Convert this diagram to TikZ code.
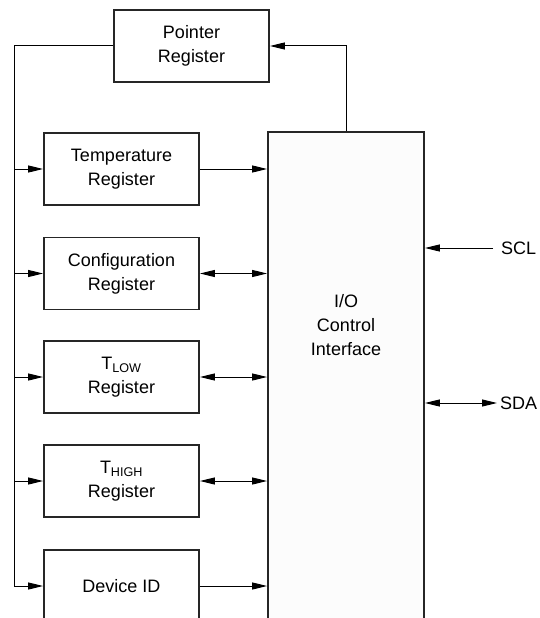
\documentclass[tikz,border=0pt]{standalone}
\usepackage{fontspec}
\setmainfont{Liberation Sans}
\usetikzlibrary{arrows.meta}
\tikzset{
  regbox/.style={draw=black!85, line width=1.8pt, minimum width=155, minimum height=72,
    align=center, font=\fontsize{18}{24}\selectfont},
  conn/.style={line width=1pt, black},
  tip/.style={-{Triangle[length=15pt,width=7pt]}},
  dtip/.style={{Triangle[length=15pt,width=7pt]}-{Triangle[length=15pt,width=7pt]}},
  sig/.style={font=\fontsize{18}{24}\selectfont, inner ysep=2pt}
}
\begin{document}
\begin{tikzpicture}[x=1pt,y=-1pt]
  \clip (0,0) rectangle (539,618);
  \fill[white] (0,0) rectangle (539,618);

  % Drawing the register boxes
  \node (ptr) [regbox] at (191.5,46) {Pointer\\Register};
  \node (temp) [regbox] at (121.5,169) {Temperature\\Register};
  \node (conf) [regbox] at (121.5,273.5) {Configuration\\Register};
  \node (tlow) [regbox] at (121.5,377) {T\textsubscript{LOW}\\Register};
  \node (thigh) [regbox] at (121.5,481) {T\textsubscript{HIGH}\\Register};
  \node (devid) [regbox] at (121.5,586) {Device ID};

  % Drawing box I/O, open at the bottom edge
  \node (io) [regbox, fill=black!1, minimum width=156, minimum height=520] at (346,392) {};
  \node (iotext) [align=center, font=\fontsize{18}{24}\selectfont] at (346,325) {I/O\\Control\\Interface};

  % Bus from the pointer register
  \coordinate (bus) at (14,46);
  \draw [conn] (ptr.west) -- (bus) -- (bus |- devid.west);
  \foreach \r in {temp,conf,tlow,thigh,devid}
    \draw [conn, tip] (bus |- \r.west) -- (\r.west);

  % Data paths to the I/O block
  \draw [conn, tip] (temp.east) -- (temp.east -| io.west);
  \draw [conn, dtip] (conf.east) -- (conf.east -| io.west);
  \draw [conn, dtip] (tlow.east) -- (tlow.east -| io.west);
  \draw [conn, dtip] (thigh.east) -- (thigh.east -| io.west);
  \draw [conn, tip] (devid.east) -- (devid.east -| io.west);
  \draw [conn, tip] (io.north) |- (ptr.east);

  % Serial pins
  \node (scl) [sig, anchor=west, inner xsep=8pt] at (493,248) {SCL};
  \node (sda) [sig, anchor=west, inner xsep=3pt] at (497,403) {SDA};
  \draw [conn, tip] (scl.west) -- (scl.west -| io.east);
  \draw [conn, dtip] (sda.west -| io.east) -- (sda.west);
\end{tikzpicture}
\end{document}
